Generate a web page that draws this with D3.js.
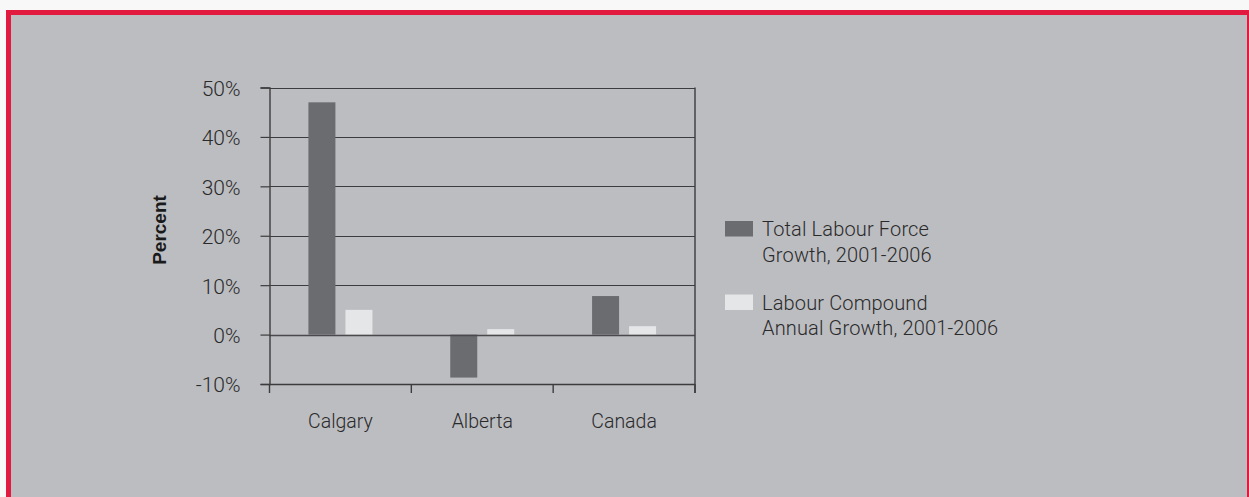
<!DOCTYPE html>
<html>
<head>
<meta charset="utf-8">
<script src="https://cdn.jsdelivr.net/npm/d3@7"></script>
<style>
  html, body { margin: 0; padding: 0; background: #f8f8f8; }
  svg { display: block; }
</style>
</head>
<body>
<svg id="chart" width="1249" height="497"></svg>
<script>
const categories = ["Calgary", "Alberta", "Canada"];
const seriesNames = ["Total Labour Force Growth, 2001-2006", "Labour Compound Annual Growth, 2001-2006"];
const totalGrowth = [47, -8.7, 7.8];
const compoundGrowth = [5.0, 1.1, 1.7];
const yTicks = [-10, 0, 10, 20, 30, 40, 50];
const legendLines = [["Total Labour Force", "Growth, 2001-2006"], ["Labour Compound", "Annual Growth, 2001-2006"]];
const colors = ["#6b6c70", "#e5e6e8"];

(function () {
const svg = d3.select("#chart");
svg.append("rect").attr("x", 0).attr("y", 0).attr("width", 1249).attr("height", 497).attr("fill", "#f8f8f8");
svg.append("rect").attr("x", 6).attr("y", 10).attr("width", 1260).attr("height", 520).attr("fill", "#e31a40");
svg.append("rect").attr("x", 11).attr("y", 15).attr("width", 1236).attr("height", 520).attr("fill", "#bcbdc1");

const pL = 269.5, pR = 695, pT = 87.5, pB = 384;
const y = d3.scaleLinear().domain([-10, 50]).range([pB, pT]);
const x = d3.scaleBand().domain(categories).range([pL, pR]);
const barW = 27, gap = 10;

const textFont = "Roboto, 'Liberation Sans', sans-serif";

// gridlines
svg.append("g").selectAll("line").data(yTicks.filter(d => d > -10)).join("line")
  .attr("x1", pL).attr("x2", pR)
  .attr("y1", d => Math.round(y(d)) + 0.5).attr("y2", d => Math.round(y(d)) + 0.5)
  .attr("stroke", "#3c3c3e").attr("stroke-width", 1.2);

// bars
const data = categories.map((c, i) => ({ c, v: [totalGrowth[i], compoundGrowth[i]] }));
const g = svg.append("g");
data.forEach(d => {
  const cx = x(d.c) + x.bandwidth() / 2;
  d.v.forEach((v, j) => {
    const x0 = j === 0 ? cx - gap / 2 - barW : cx + gap / 2;
    g.append("rect")
      .attr("x", x0).attr("width", barW)
      .attr("y", Math.min(y(v), y(0))).attr("height", Math.abs(y(v) - y(0)))
      .attr("fill", colors[j]);
  });
});

// zero line over bars
svg.append("line").attr("x1", pL).attr("x2", pR)
  .attr("y1", Math.round(y(0)) + 0.5).attr("y2", Math.round(y(0)) + 0.5)
  .attr("stroke", "#4a4a4c").attr("stroke-width", 1.5);

// y axis
const yAxis = d3.axisLeft(y).tickValues(yTicks).tickFormat(d => d + "%").tickSize(9).tickPadding(20);
const ya = svg.append("g").attr("transform", `translate(${pL},0)`).call(yAxis);
ya.select(".domain").attr("stroke", "#3c3c3e").attr("stroke-width", 1.4);
ya.selectAll(".tick line").attr("stroke", "#3c3c3e").attr("stroke-width", 1.2);
ya.selectAll("text").attr("font-family", textFont).attr("font-weight", 300).attr("font-size", 21)
  .attr("dy", "0.38em").attr("fill", "#2a2a2a");

// x axis
const xAxis = d3.axisBottom(x).tickValues([]).tickSize(0);
const xa = svg.append("g").attr("transform", `translate(0,${pB})`).call(xAxis);
xa.select(".domain").remove();
xa.append("line").attr("x1", pL).attr("x2", pR).attr("y1", 0.5).attr("y2", 0.5).attr("stroke", "#3c3c3e").attr("stroke-width", 1.4);
const xb = [pL, ...categories.map(c => x(c) + x.bandwidth())];
xa.selectAll(".xt").data(xb).join("line").attr("class", "xt")
  .attr("x1", d => d).attr("x2", d => d).attr("y1", 0).attr("y2", 9)
  .attr("stroke", "#3c3c3e").attr("stroke-width", 1.4);
xa.selectAll(".xl").data(categories).join("text").attr("class", "xl")
  .attr("x", d => x(d) + x.bandwidth() / 2).attr("y", 44)
  .attr("text-anchor", "middle")
  .attr("font-family", textFont).attr("font-weight", 300).attr("font-size", 19.5).attr("fill", "#2a2a2a")
  .text(d => d);

// right border of plot
svg.append("line").attr("x1", pR).attr("x2", pR).attr("y1", pT).attr("y2", pB + 9)
  .attr("stroke", "#3c3c3e").attr("stroke-width", 1.4);

// y label
svg.append("text").attr("transform", `translate(166,230) rotate(-90)`)
  .attr("text-anchor", "middle")
  .attr("font-family", "'Liberation Sans Narrow', 'Liberation Sans', sans-serif").attr("font-weight", 700)
  .attr("font-size", 19).attr("fill", "#1a1a1a").text("Percent");

// legend
const lg = svg.append("g");
const legendY = [221, 294.5];
seriesNames.forEach((s, i) => {
  lg.append("rect").attr("x", 725).attr("y", legendY[i]).attr("width", 28).attr("height", 15.5).attr("fill", colors[i]);
  legendLines[i].forEach((t, k) => {
    lg.append("text").attr("x", 762).attr("y", legendY[i] + 15 + k * 25.5)
      .attr("font-family", textFont).attr("font-weight", 300).attr("font-size", 20)
      .attr("fill", "#2a2a2a").attr("letter-spacing", 0.15).text(t);
  });
});
})();
</script>
</body>
</html>
